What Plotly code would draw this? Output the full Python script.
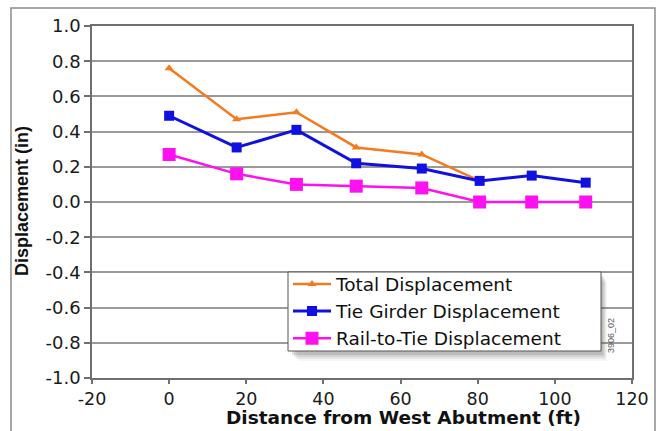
import plotly.graph_objects as go

# Measurement stations along the span (ft from west abutment)
distance_ft = [0, 17.5, 33, 48.5, 65.5, 80.5, 94, 108]

# Displacements (in)
total_disp = [0.76, 0.47, 0.51, 0.31, 0.27, 0.12]
tie_girder_disp = [0.49, 0.31, 0.41, 0.22, 0.19, 0.12, 0.15, 0.11]
rail_to_tie_disp = [0.27, 0.16, 0.10, 0.09, 0.08, 0.0, 0.0, 0.0]

x_ticks = [-20, 0, 20, 40, 60, 80, 100, 120]
x_tick_labels = ["-20", "0", "20", "40", "60", "80", "100", "120"]
y_ticks = [1.0, 0.8, 0.6, 0.4, 0.2, 0.0, -0.2, -0.4, -0.6, -0.8, -1.0]
y_tick_labels = ["1.0", "0.8", "0.6", "0.4", "0.2", "0.0", "-0.2", "-0.4", "-0.6", "-0.8", "-1.0"]

W, H = 663, 431
L, R, T, B = 92, 31, 26, 53
PW, PH = W - L - R, H - T - B


def px(x):
    return (x - L) / PW


def py(y):
    return (H - B - y) / PH


fig = go.Figure()
fig.add_trace(go.Scatter(
    x=distance_ft[:len(total_disp)], y=total_disp, mode="lines+markers",
    name="Total Displacement",
    line=dict(color="#F47A20", width=2.5),
    marker=dict(symbol="triangle-up", size=8, color="#F47A20"),
))
fig.add_trace(go.Scatter(
    x=distance_ft, y=tie_girder_disp, mode="lines+markers",
    name="Tie Girder Displacement",
    line=dict(color="#1010E0", width=3),
    marker=dict(symbol="square", size=10, color="#1010E0"),
))
fig.add_trace(go.Scatter(
    x=distance_ft, y=rail_to_tie_disp, mode="lines+markers",
    name="Rail-to-Tie Displacement",
    line=dict(color="#FF10F0", width=2.5),
    marker=dict(symbol="square", size=13, color="#FF10F0"),
))

# legend box corners (px)
LG_X0, LG_Y0, LG_X1, LG_Y1 = 288, 272, 601, 351

shapes = []
# outer frame
shapes.append(dict(type="rect", xref="paper", yref="paper",
                   x0=px(11), x1=px(655), y0=py(445), y1=py(8),
                   line=dict(color="#8c8c8c", width=1.5), layer="below"))
# soft drop shadow under the legend box
for off, op in [(10, 0.06), (8, 0.09), (6, 0.13), (4, 0.18)]:
    shapes.append(dict(type="rect", xref="paper", yref="paper",
                       x0=px(LG_X0 + off), x1=px(LG_X1 + off * 0.6),
                       y0=py(LG_Y1 + off), y1=py(LG_Y0 + off),
                       line=dict(width=0), fillcolor="#555555", opacity=op,
                       layer="above"))
# legend panel (the legend entries are drawn on top of it)
shapes.append(dict(type="rect", xref="paper", yref="paper",
                   x0=px(LG_X0), x1=px(LG_X1), y0=py(LG_Y1), y1=py(LG_Y0),
                   line=dict(color="#555555", width=1), fillcolor="white",
                   layer="above"))

fig.update_layout(
    width=W, height=H,
    margin=dict(l=L, r=R, t=T, b=B),
    paper_bgcolor="white", plot_bgcolor="white",
    shapes=shapes,
    showlegend=True,
    legend=dict(
        x=px(LG_X0), y=py((LG_Y0 + LG_Y1) / 2), xanchor="left", yanchor="middle",
        bgcolor="rgba(0,0,0,0)", borderwidth=0,
        font=dict(family="DejaVu Sans", size=18.5, color="#111111"),
        itemwidth=38, tracegroupgap=0,
    ),
    xaxis=dict(
        range=[-20, 120], tickvals=x_ticks, ticktext=x_tick_labels,
        showgrid=False, zeroline=False,
        showline=True, linecolor="#707070", linewidth=1.5, mirror=True,
        ticks="outside", ticklen=4, tickcolor="#707070", tickwidth=1.5,
        tickfont=dict(family="DejaVu Sans", size=17.5, color="#1a1a1a"),
    ),
    yaxis=dict(
        range=[-1, 1], tickvals=y_ticks, ticktext=y_tick_labels,
        showgrid=True, gridcolor="#9a9a9a", gridwidth=1.5, zeroline=False,
        showline=True, linecolor="#707070", linewidth=1.5, mirror=True,
        ticks="outside", ticklen=6, tickcolor="#707070", tickwidth=1.5,
        tickfont=dict(family="DejaVu Sans", size=18, color="#1a1a1a"),
    ),
    annotations=[
        dict(text="<b>Distance from West Abutment (ft)</b>", xref="paper", yref="paper",
             x=px(403), y=py(417), xanchor="center", yanchor="middle", showarrow=False,
             font=dict(family="DejaVu Sans", size=18.5, color="#111111")),
        dict(text="<b>Displacement (in)</b>", xref="paper", yref="paper",
             x=px(22), y=py(201), xanchor="center", yanchor="middle", showarrow=False,
             textangle=-90,
             font=dict(family="Liberation Sans", size=18, color="#111111")),
        dict(text="3906_02", xref="paper", yref="paper",
             x=px(611), y=py(336), xanchor="center", yanchor="middle", showarrow=False,
             textangle=-90,
             font=dict(family="Liberation Sans", size=9, color="#555555")),
    ],
)

fig.write_html("out.html")
